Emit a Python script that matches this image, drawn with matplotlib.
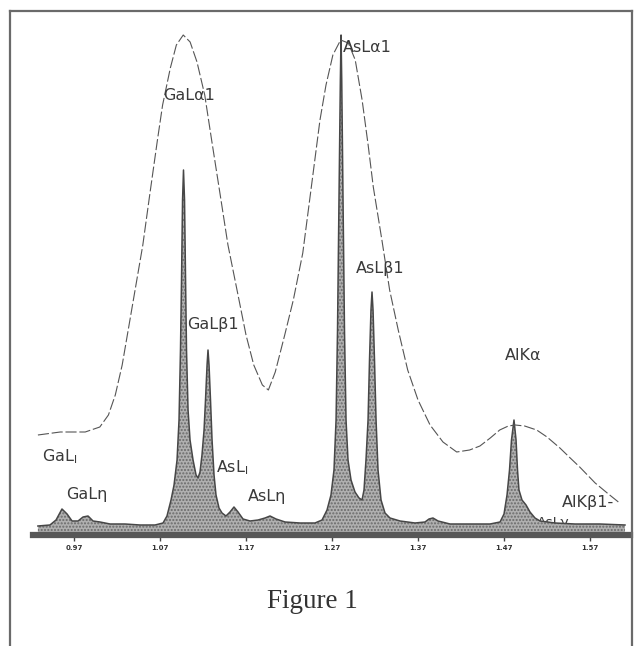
"""
X-ray emission spectrum of GaAs/AlAs: broad EDS envelope over sharp WDS lines
"""
import matplotlib
matplotlib.use('Agg')
import matplotlib.pyplot as plt
from matplotlib.lines import Line2D

# EDS envelope (energy in keV, intensity in arbitrary units)
eds_energy = [0.928, 0.954, 0.983, 1.000, 1.010, 1.018, 1.026, 1.035, 1.043, 1.050,
              1.058, 1.067, 1.073, 1.082, 1.089, 1.097, 1.105, 1.113, 1.122, 1.130,
              1.140, 1.149, 1.160, 1.170, 1.179, 1.189, 1.196, 1.204, 1.215,
              1.225, 1.236, 1.247, 1.256, 1.263, 1.271, 1.280, 1.289, 1.297, 1.305,
              1.312, 1.318, 1.328, 1.337, 1.347, 1.358, 1.370, 1.384, 1.399, 1.415,
              1.430, 1.442, 1.454, 1.465, 1.475, 1.483, 1.494, 1.508, 1.520, 1.535,
              1.547, 1.558, 1.576, 1.590, 1.603]
eds_counts = [20.0, 20.6, 20.6, 21.6, 24.0, 28.0, 34.0, 43.0, 51.0, 58.0,
              68.0, 79.0, 86.0, 93.4, 98.0, 100.0, 98.6, 94.6, 88.0, 79.0,
              68.0, 58.0, 48.6, 40.0, 34.0, 30.0, 29.0, 32.6, 40.0,
              47.0, 56.4, 71.0, 83.0, 90.0, 96.0, 99.0, 98.4, 95.0, 87.0,
              78.0, 69.6, 59.0, 49.0, 41.0, 33.0, 27.0, 22.0, 18.6, 16.6,
              17.0, 17.8, 19.4, 21.0, 21.8, 22.0, 21.8, 21.0, 19.6, 17.4,
              15.4, 13.6, 10.4, 8.4, 6.6]

# WDS scan (energy in keV, intensity in arbitrary units)
wds_energy = [0.928, 0.942, 0.9491, 0.9560, 0.9619, 0.9677, 0.9747, 0.9805, 0.9863, 0.9921,
              1.0002, 1.0119, 1.0293, 1.0467, 1.0642, 1.0735, 1.0781, 1.0828, 1.0863, 1.0898,
              1.0921, 1.0938, 1.0950, 1.0962, 1.0973, 1.0985, 1.0997, 1.1008, 1.1026, 1.1049,
              1.1084, 1.1119, 1.1142, 1.1165, 1.1188, 1.1212, 1.1229, 1.1247, 1.1258, 1.1270,
              1.1287, 1.1305, 1.1328, 1.1351, 1.1386, 1.1421, 1.1467, 1.1514, 1.1560, 1.1607,
              1.1665, 1.1747, 1.1840, 1.1921, 1.1979, 1.2049, 1.2154, 1.2328, 1.2502, 1.2584,
              1.2642, 1.2688, 1.2723, 1.2747, 1.2764, 1.2781, 1.2797, 1.2805, 1.2813, 1.2828,
              1.2845, 1.2863, 1.2886, 1.2921, 1.2967, 1.3014, 1.3049, 1.3072, 1.3095, 1.3119,
              1.3136, 1.3153, 1.3165, 1.3177, 1.3194, 1.3212, 1.3235, 1.3270, 1.3316, 1.3374,
              1.3491, 1.3665, 1.3781, 1.3828, 1.3874, 1.3933, 1.4072, 1.4305, 1.4537, 1.4654,
              1.4700, 1.4735, 1.4764, 1.4787, 1.4816, 1.4840, 1.4857, 1.4874, 1.4909, 1.4956,
              1.5002, 1.5060, 1.5119, 1.5293, 1.5526, 1.5816, 1.6107]
wds_counts = [1.8, 2.0, 3.0, 5.2, 4.2, 2.8, 2.8, 3.6, 3.8, 2.8,
              2.6, 2.2, 2.2, 2.0, 2.0, 2.4, 3.8, 7.0, 10.0, 15.0,
              23.0, 37.0, 51.0, 67.0, 73.0, 67.0, 51.0, 37.0, 25.0, 19.0,
              15.0, 12.0, 11.4, 12.6, 16.0, 21.0, 27.0, 34.0, 37.0, 34.0,
              27.0, 19.0, 12.0, 8.0, 5.4, 4.4, 3.8, 4.6, 5.6, 4.6,
              3.2, 2.8, 3.0, 3.4, 3.8, 3.2, 2.6, 2.4, 2.4, 3.0,
              5.0, 8.0, 13.0, 23.0, 41.0, 67.0, 91.0, 100.0, 91.0, 67.0,
              41.0, 23.0, 15.0, 11.0, 8.6, 7.4, 7.0, 9.0, 15.0, 23.0,
              35.0, 45.0, 48.6, 45.0, 35.0, 23.0, 13.0, 7.0, 4.4, 3.4,
              2.8, 2.4, 2.6, 3.2, 3.4, 2.8, 2.2, 2.2, 2.2, 2.6,
              4.2, 8.0, 13.0, 19.0, 23.0, 19.0, 13.0, 9.0, 7.0, 6.0,
              4.6, 3.4, 2.8, 2.4, 2.2, 2.2, 2.0]

# axis ticks
tick_values = [0.97, 1.07, 1.17, 1.27, 1.37, 1.47, 1.57]
tick_labels = ['0.97', '1.07', '1.17', '1.27', '1.37', '1.47', '1.57']

# line labels: text, energy, intensity
line_names = ['GaL$_\\mathrm{l}$', 'GaL\u03b7', 'GaL\u03b11', 'GaL\u03b21', 'AsL$_\\mathrm{l}$',
              'AsL\u03b7', 'AsL\u03b11', 'AsL\u03b21', 'AlK\u03b1', 'AlK\u03b21-']
line_energy = [0.9328, 0.9607, 1.0735, 1.1014, 1.1351, 1.1723, 1.2828, 1.2979, 1.4712, 1.5374]
line_counts = [15.6, 8.0, 88.0, 42.0, 13.4, 7.6, 97.6, 53.4, 36.0, 6.6]

INK = '#3a3a3a'

fig = plt.figure(figsize=(6.42, 6.46), dpi=100)
fig.patch.set_facecolor('white')

# outer frame, open at the bottom
frame = dict(transform=fig.transFigure, color='#6a6a6a', linewidth=1.6)
fig.add_artist(Line2D([10/642, 10/642], [0, 1 - 11/646], **frame))
fig.add_artist(Line2D([10/642, 632/642], [1 - 11/646, 1 - 11/646], **frame))
fig.add_artist(Line2D([632/642, 632/642], [1 - 11/646, 0], **frame))

ax = fig.add_axes([33/642, 111/646, 597/642, 515/646])
ax.set_xlim(0.9223, 1.6165)
ax.set_ylim(0, 103)

# WDS peaks: speckled grey fill with a dark outline
ax.fill_between(wds_energy, 0, wds_counts, facecolor='#b0b0b0', edgecolor='#6a6a6a',
                hatch='.....', linewidth=0, zorder=2)
ax.plot(wds_energy, wds_counts, color='#474747', linewidth=1.1, zorder=3)

# EDS envelope
ax.plot(eds_energy, eds_counts, color='#555555', linewidth=0.8,
        linestyle=(0, (10, 2.5)), zorder=3)

for name, e, c in zip(line_names, line_energy, line_counts):
    ax.text(e, c, name, fontsize=11.5, color=INK, ha='left', va='center', zorder=4)

# label running into the baseline
ax.text(1.5084, 2.4, 'AsL\u03b3', fontsize=10, color=INK, ha='left', va='center',
        zorder=1, clip_on=True)

for side in ['left', 'right', 'top']:
    ax.spines[side].set_visible(False)
ax.spines['bottom'].set_linewidth(4.5)
ax.spines['bottom'].set_color('#575757')
ax.spines['bottom'].set_zorder(5)
ax.set_yticks([])
ax.set_xticks(tick_values)
ax.set_xticklabels(tick_labels)
ax.tick_params(axis='x', direction='out', length=4, width=1, pad=3,
               labelsize=5, labelcolor='#333333', color='#444444')
for lbl in ax.get_xticklabels():
    lbl.set_fontweight('bold')

fig.text(312/642, 1 - 602/646, 'Figure 1', fontsize=19.5, color='#333333',
         family='Liberation Serif', ha='center', va='center')

fig.savefig('out.png', dpi=100)
